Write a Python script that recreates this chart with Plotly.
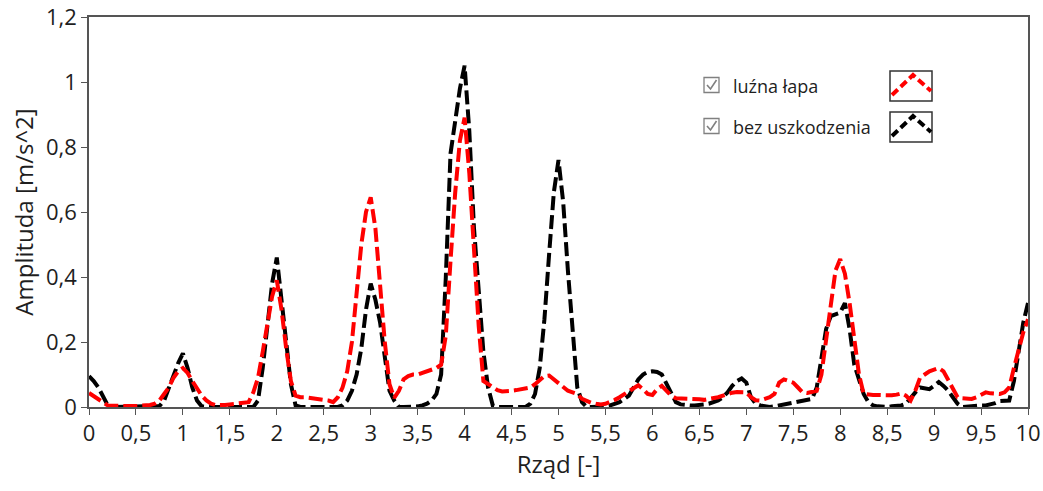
import plotly.graph_objects as go

# Order axis sampling (step 0.05 from 0 to 10)
order = [round(i * 0.05, 2) for i in range(201)]

# Amplitude spectra [m/s^2]
bez_uszkodzenia = [
    0.095, 0.08, 0.06, 0.03, 0.005, 0.0, 0.0, 0.0, 0.0, 0.0,
    0.0, 0.0, 0.0, 0.0, 0.0, 0.003, 0.02, 0.06, 0.1, 0.135,
    0.165, 0.12, 0.06, 0.02, 0.002, 0.0, 0.0, 0.0, 0.0, 0.0,
    0.0, 0.0, 0.0, 0.0, 0.0, 0.0, 0.02, 0.12, 0.25, 0.38,
    0.46, 0.33, 0.2, 0.07, 0.005, 0.0, 0.0, 0.0, 0.0, 0.0,
    0.0, 0.0, 0.0, 0.0, 0.005, 0.02, 0.05, 0.1, 0.18, 0.3,
    0.38, 0.33, 0.26, 0.16, 0.05, 0.02, 0.0, 0.0, 0.0, 0.0,
    0.002, 0.005, 0.01, 0.02, 0.04, 0.1, 0.4, 0.78, 0.88, 0.98,
    1.05, 0.85, 0.55, 0.35, 0.17, 0.06, 0.005, 0.0, 0.0, 0.0,
    0.0, 0.0, 0.0, 0.0, 0.01, 0.04, 0.12, 0.27, 0.47, 0.66,
    0.76, 0.63, 0.42, 0.22, 0.06, 0.015, 0.0, 0.0, 0.0, 0.0,
    0.002, 0.005, 0.01, 0.015, 0.025, 0.035, 0.06, 0.085, 0.1, 0.108,
    0.11, 0.108, 0.1, 0.07, 0.04, 0.015, 0.008, 0.005, 0.005, 0.005,
    0.005, 0.008, 0.01, 0.015, 0.02, 0.03, 0.045, 0.065, 0.08, 0.088,
    0.075, 0.03, 0.01, 0.005, 0.002, 0.0, 0.002, 0.005, 0.008, 0.01,
    0.013, 0.015, 0.017, 0.02, 0.025, 0.06, 0.16, 0.24, 0.28, 0.285,
    0.29, 0.32, 0.24, 0.13, 0.08, 0.04, 0.015, 0.005, 0.002, 0.0,
    0.0, 0.002, 0.003, 0.005, 0.01, 0.03, 0.045, 0.06, 0.057, 0.055,
    0.065, 0.077, 0.065, 0.05, 0.03, 0.01, 0.0, 0.002, 0.003, 0.004,
    0.005, 0.005, 0.008, 0.012, 0.018, 0.02, 0.02, 0.08, 0.18, 0.26,
    0.32,
]

luzna_lapa = [
    0.043, 0.033, 0.022, 0.012, 0.005, 0.004, 0.003, 0.003, 0.003, 0.003,
    0.003, 0.003, 0.004, 0.006, 0.01, 0.02, 0.04, 0.06, 0.09, 0.11,
    0.12, 0.105, 0.08, 0.055, 0.035, 0.02, 0.01, 0.006, 0.005, 0.006,
    0.008, 0.01, 0.012, 0.013, 0.015, 0.045, 0.09, 0.17, 0.26, 0.34,
    0.39, 0.3, 0.18, 0.08, 0.035, 0.03, 0.03, 0.028, 0.027, 0.025,
    0.022, 0.02, 0.015, 0.03, 0.06, 0.11, 0.2, 0.36, 0.5, 0.6,
    0.645, 0.55, 0.38, 0.2, 0.07, 0.028, 0.05, 0.085, 0.095, 0.1,
    0.1, 0.105, 0.11, 0.115, 0.12, 0.13, 0.22, 0.45, 0.66, 0.82,
    0.89, 0.72, 0.5, 0.25, 0.08, 0.07, 0.06, 0.052, 0.048, 0.048,
    0.05, 0.052, 0.055, 0.058, 0.06, 0.07, 0.083, 0.095, 0.097, 0.085,
    0.07, 0.058, 0.05, 0.045, 0.04, 0.025, 0.018, 0.013, 0.01, 0.008,
    0.01, 0.015, 0.022, 0.03, 0.04, 0.05, 0.058, 0.067, 0.055, 0.04,
    0.037, 0.055, 0.065, 0.05, 0.035, 0.027, 0.027, 0.027, 0.027, 0.026,
    0.024, 0.022, 0.024, 0.027, 0.03, 0.035, 0.04, 0.044, 0.046, 0.046,
    0.045, 0.03, 0.021, 0.02, 0.025, 0.03, 0.04, 0.075, 0.085, 0.08,
    0.075, 0.06, 0.045, 0.043, 0.045, 0.05, 0.1, 0.2, 0.3, 0.42,
    0.455, 0.41, 0.32, 0.22, 0.1, 0.04, 0.037, 0.037, 0.037, 0.036,
    0.035, 0.036, 0.038, 0.042, 0.035, 0.02, 0.05, 0.09, 0.1, 0.11,
    0.115, 0.12, 0.11, 0.085, 0.055, 0.03, 0.027, 0.026, 0.025, 0.03,
    0.037, 0.045, 0.042, 0.04, 0.04, 0.045, 0.06, 0.12, 0.18, 0.23,
    0.27,
]

x_tick_vals = [i * 0.5 for i in range(21)]
x_tick_text = ["0", "0,5", "1", "1,5", "2", "2,5", "3", "3,5", "4", "4,5", "5",
               "5,5", "6", "6,5", "7", "7,5", "8", "8,5", "9", "9,5", "10"]
y_tick_vals = [0, 0.2, 0.4, 0.6, 0.8, 1.0, 1.2]
y_tick_text = ["0", "0,2", "0,4", "0,6", "0,8", "1", "1,2"]

series_names = ["luźna łapa", "bez uszkodzenia"]
series_colors = ["#ff0000", "#000000"]

FONT = "Open Sans, Noto Sans, DejaVu Sans, sans-serif"
TEXT = "#1e1e1e"
DASH = "14px,5px"

fig = go.Figure()
fig.add_trace(go.Scatter(x=order, y=bez_uszkodzenia, mode="lines",
                         name=series_names[1],
                         line=dict(color=series_colors[1], width=4, dash=DASH),
                         showlegend=False))
fig.add_trace(go.Scatter(x=order, y=luzna_lapa, mode="lines",
                         name=series_names[0],
                         line=dict(color=series_colors[0], width=4, dash=DASH),
                         showlegend=False))

# Plot-area geometry in pixels, used to place the hand-drawn legend
W, H = 1043, 491
L, R, T, B = 89, 1028, 17, 407


def px(xp):
    return (xp - L) / (R - L)


def py(yp):
    return (B - yp) / (B - T)


shapes = []
annotations = []
for i, (name, color) in enumerate(zip(series_names, series_colors)):
    cy = 85 + i * 41
    # checkbox
    shapes.append(dict(type="rect", xref="paper", yref="paper",
                       x0=px(704), x1=px(719), y0=py(cy + 7.5), y1=py(cy - 7.5),
                       line=dict(color="#808080", width=1.3),
                       fillcolor="white"))
    shapes.append(dict(type="path", xref="paper", yref="paper",
                       path=f"M {px(707)} {py(cy)} L {px(710.5)} {py(cy + 4)} L {px(716.5)} {py(cy - 5)}",
                       line=dict(color="#808080", width=1.6)))
    annotations.append(dict(xref="paper", yref="paper", x=px(731), y=py(cy + 1),
                            xanchor="left", yanchor="middle", showarrow=False,
                            text=name, font=dict(family=FONT, size=18, color=TEXT)))
    # line sample box
    shapes.append(dict(type="rect", xref="paper", yref="paper",
                       x0=px(890), x1=px(932), y0=py(cy + 16), y1=py(cy - 14),
                       line=dict(color="#333333", width=1.5), fillcolor="white"))
    shapes.append(dict(type="path", xref="paper", yref="paper",
                       path=(f"M {px(892)} {py(cy + 10)} L {px(913)} {py(cy - 10)} "
                             f"L {px(931)} {py(cy + 6)}"),
                       line=dict(color=color, width=4, dash="8px,4px")))

fig.update_layout(
    width=W, height=H,
    margin=dict(l=L, r=W - R, t=T, b=H - B),
    paper_bgcolor="white", plot_bgcolor="white",
    font=dict(family=FONT, color=TEXT),
    shapes=shapes, annotations=annotations,
    showlegend=False,
)
axis_style = dict(ticks="outside", ticklen=6, tickcolor="#555", tickwidth=1,
                  showline=True, linecolor="#555", linewidth=1.5, mirror=True,
                  showgrid=False, zeroline=False, automargin=False,
                  ticklabeloverflow="allow",
                  tickfont=dict(size=22, family=FONT, color=TEXT))
fig.update_xaxes(range=[0, 10], tickvals=x_tick_vals, ticktext=x_tick_text,
                 title=dict(text="Rząd [-]", font=dict(size=24, family=FONT, color=TEXT),
                            standoff=8),
                 **axis_style)
fig.update_yaxes(range=[0, 1.2], tickvals=y_tick_vals, ticktext=y_tick_text,
                 title=dict(text="Amplituda [m/s^2]", font=dict(size=24, family=FONT, color=TEXT),
                            standoff=6),
                 **axis_style)

fig.write_html("out.html")
